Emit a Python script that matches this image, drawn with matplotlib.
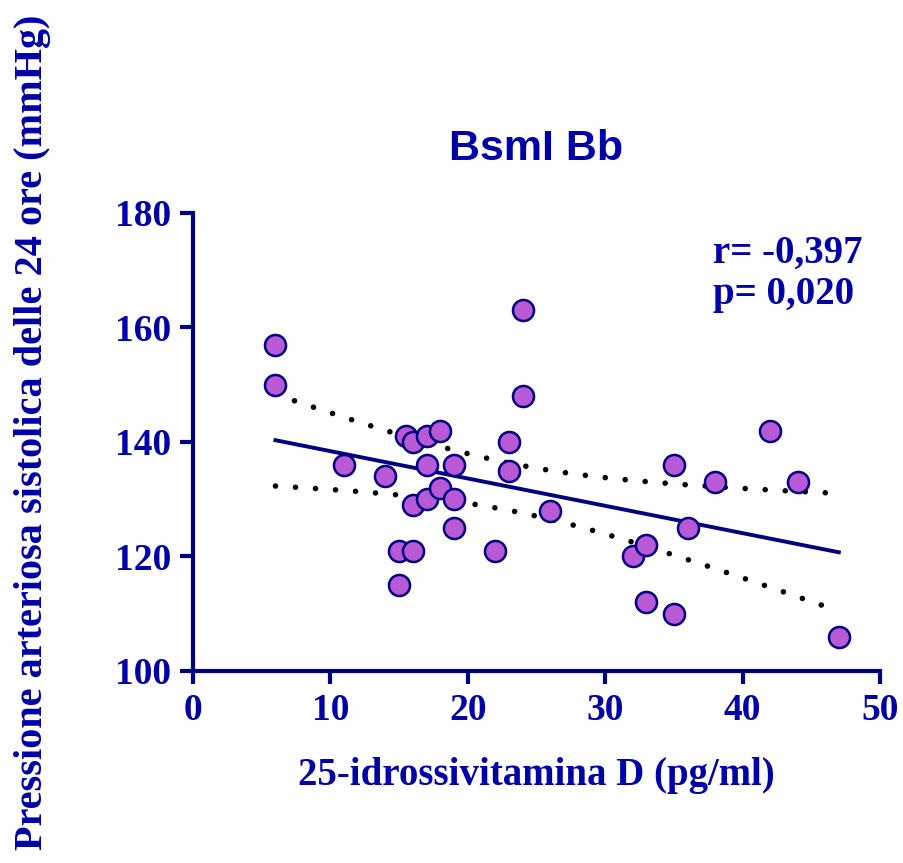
import numpy as np
import matplotlib
matplotlib.use("Agg")
import matplotlib.pyplot as plt

# 25-idrossivitamina D (pg/ml) vs pressione sistolica 24h (mmHg)
vit_d = [6, 6, 11, 14, 15, 15, 15.5, 16, 16, 16, 17, 17, 17, 18, 18,
         19, 19, 19, 22, 23, 23, 24, 24, 26, 32, 33, 33, 35, 35, 36,
         38, 42, 44, 47]
pas = [157, 150, 136, 134, 115, 121, 141, 140, 129, 121, 141, 136, 130, 142, 132,
       136, 130, 125, 121, 140, 135, 163, 148, 128, 120, 122, 112, 136, 110, 125,
       133, 142, 133, 106]

x_ticks = [0, 10, 20, 30, 40, 50]
y_ticks = [100, 120, 140, 160, 180]

blu_testo = "#0000A8"
blu_assi = "#000080"
viola = "#B85AD6"

x = np.array(vit_d, dtype=float)
y = np.array(pas, dtype=float)

# regressione lineare + banda di confidenza 95%
slope, intercept = np.polyfit(x, y, 1)
n = len(x)
res = y - (slope * x + intercept)
s = np.sqrt(np.sum(res ** 2) / (n - 2))
sxx = np.sum((x - x.mean()) ** 2)
t_val = 2.037  # t(0.975, 32)
xf = np.linspace(x.min(), x.max(), 200)
yf = slope * xf + intercept
ci = t_val * s * np.sqrt(1 / n + (xf - x.mean()) ** 2 / sxx)

fig = plt.figure(figsize=(9.04, 8.63), dpi=100)
ax = fig.add_axes([0.2135, 0.2225, 0.76, 0.5307])

dot = (0, (0.01, 3.6))
ax.plot(xf, yf + ci, color="black", lw=4, linestyle=dot, dash_capstyle="round", zorder=2)
ax.plot(xf, yf - ci, color="black", lw=4, linestyle=dot, dash_capstyle="round", zorder=2)
ax.plot(xf, yf, color=blu_assi, lw=2.8, zorder=3)
ax.scatter(x, y, s=230, color=viola, edgecolors=blu_assi, linewidths=1.8, zorder=4, clip_on=False)

ax.set_xlim(0, 50)
ax.set_ylim(100, 180)
ax.set_xticks(x_ticks)
ax.set_yticks(y_ticks)

for side in ["top", "right"]:
    ax.spines[side].set_visible(False)
for side in ["left", "bottom"]:
    ax.spines[side].set_color(blu_assi)
    ax.spines[side].set_linewidth(3)
ax.tick_params(axis="both", colors=blu_assi, width=3, length=9.5, direction="out",
               labelcolor=blu_testo, labelsize=27, pad=6)
for lab in ax.get_xticklabels() + ax.get_yticklabels():
    lab.set_fontfamily("Liberation Serif")
    lab.set_fontweight("bold")

ax.set_xlabel("25-idrossivitamina D (pg/ml)", fontsize=28, fontweight="bold",
              family="Liberation Serif", color=blu_testo)
ax.xaxis.set_label_coords(0.5, -0.188)
fig.text(33 / 904, 1 - 432 / 863, "Pressione arteriosa sistolica delle 24 ore (mmHg)",
         rotation=90, ha="center", va="center", fontsize=29, fontweight="bold",
         family="Liberation Serif", color=blu_testo)

ax.text(0.5, 1.116, "BsmI Bb", transform=ax.transAxes, ha="center", va="baseline",
        fontsize=31, fontweight="bold", family="Liberation Sans", color=blu_testo)

ax.text(37.85, 171.3, "r= -0,397", ha="left", va="baseline", fontsize=28,
        fontweight="bold", family="Liberation Serif", color=blu_testo)
ax.text(37.85, 164.1, "p= 0,020", ha="left", va="baseline", fontsize=28,
        fontweight="bold", family="Liberation Serif", color=blu_testo)

fig.savefig("out.png", dpi=100)
